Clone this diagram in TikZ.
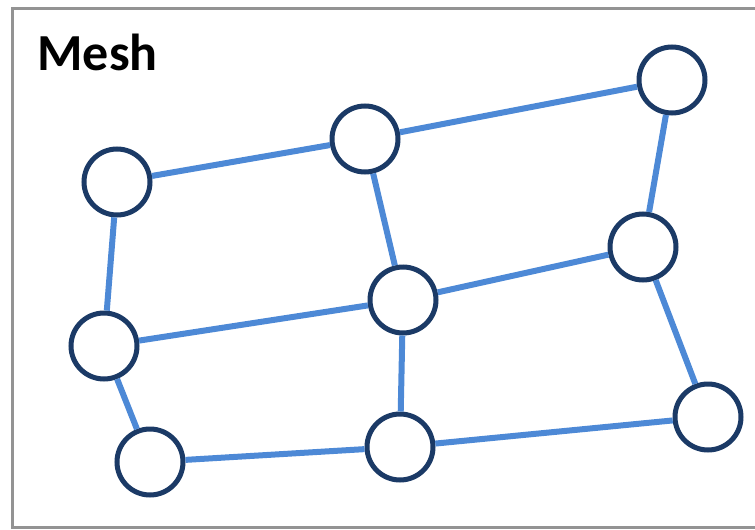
\documentclass[tikz,border=0pt]{standalone}
\usepackage{fontspec}
\setmainfont{Carlito}
\definecolor{navy}{HTML}{1B3A66}
\definecolor{meshblue}{HTML}{4D89D6}
\tikzset{
  vertex/.style={circle, draw=navy, line width=5pt, fill=white, minimum size=66pt, inner sep=0pt},
  link/.style={draw=meshblue, line width=6pt}
}
\begin{document}
\begin{tikzpicture}[x=1pt,y=-1pt]
  \useasboundingbox (0,0) rectangle (755,530);
  \draw [line width=3pt, color=gray!85] (12,8) rectangle (765,527);
  \node [anchor=base west, font=\bfseries\fontsize{52}{60}\selectfont] (title) at (34,70) {Mesh};
  \node [vertex] (a) at (117,182) {};
  \node [vertex] (b) at (365,139) {};
  \node [vertex] (c) at (672,80) {};
  \node [vertex] (d) at (104,346) {};
  \node [vertex] (e) at (403,300) {};
  \node [vertex] (f) at (643,247) {};
  \node [vertex] (g) at (150,462) {};
  \node [vertex] (h) at (400,447) {};
  \node [vertex] (i) at (708,417) {};
  \draw [link] (a) -- (b);
  \draw [link] (b) -- (c);
  \draw [link] (a) -- (d);
  \draw [link] (b) -- (e);
  \draw [link] (c) -- (f);
  \draw [link] (d) -- (e);
  \draw [link] (e) -- (f);
  \draw [link] (d) -- (g);
  \draw [link] (e) -- (h);
  \draw [link] (f) -- (i);
  \draw [link] (g) -- (h);
  \draw [link] (h) -- (i);
\end{tikzpicture}
\end{document}
